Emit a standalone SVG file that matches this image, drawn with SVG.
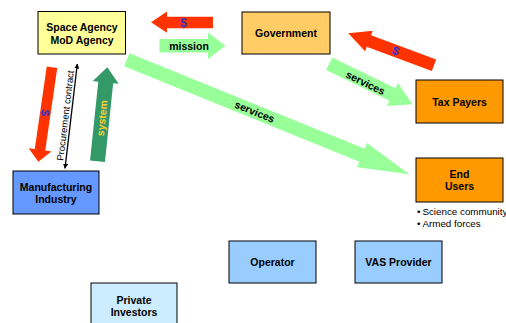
<svg xmlns="http://www.w3.org/2000/svg" width="506" height="323" viewBox="0 0 506 323">
<defs>
<style>
.box{stroke:#000;stroke-width:1}
.lbl{font-family:"Liberation Sans",Arial,sans-serif;font-weight:bold;font-size:10.5px;fill:#000;text-anchor:middle}
.red{fill:#FF3300}
.lg{fill:#99FF99}
.dg{fill:#339966}
.dollar{font-family:"Liberation Sans",Arial,sans-serif;font-weight:bold;font-size:12px;fill:#3333CC;text-anchor:middle}
.small{font-family:"Liberation Sans",Arial,sans-serif;font-size:9.5px;fill:#000}
.bul{font-family:"Liberation Sans",Arial,sans-serif;font-size:9.8px;fill:#000}
</style>
<marker id="ah" viewBox="0 0 10 10" refX="9" refY="5" markerWidth="5" markerHeight="5" orient="auto-start-reverse" markerUnits="userSpaceOnUse">
<path d="M0,0 L10,5 L0,10 z" fill="#000"/>
</marker>
</defs>
<rect width="506" height="323" fill="#fff"/>

<g id="connectors">
  <g id="arrow-gov-to-agency-money">
    <polygon class="red" points="213,16.7 167,16.7 167,11.5 151,22.2 167,32.8 167,28.3 213,28.3"/>
    <text class="dollar" x="183.5" y="27">$</text>
  </g>
  <g id="arrow-mission">
    <polygon class="lg" points="159.5,39 208,39 208,32.5 225.5,45.8 208,59 208,52.5 159.5,52.5"/>
    <text class="lbl" x="189" y="49.5">mission</text>
  </g>
  <g id="arrow-tax-to-gov-money" transform="translate(434,65.3) rotate(200.5)">
    <polygon class="red" points="0,-6.2 69.5,-6.2 69.5,-11 91.5,0 69.5,11 69.5,6.2 0,6.2"/>
  </g>
  <text class="dollar" transform="translate(396,50.7) rotate(20.5)" x="0" y="4.3">$</text>
  <g id="arrow-gov-services" transform="translate(329.2,63.8) rotate(25.9)">
    <polygon class="lg" points="0,-7 70.4,-7 70.4,-12.7 92.6,0 70.4,12.7 70.4,7 0,7"/>
    <text class="lbl" x="41" y="5">services</text>
  </g>
  <g id="arrow-agency-services" transform="translate(126.8,59.7) rotate(22.08)">
    <polygon class="lg" points="0,-7 253.9,-7 253.9,-13 304.9,0 253.9,13 253.9,7 0,7"/>
    <text class="lbl" x="138" y="3.8">services</text>
  </g>
  <g id="arrow-agency-to-industry-money" transform="translate(52,67.3) rotate(98.26)">
    <polygon class="red" points="0,-5.3 83.4,-5.3 83.4,-11.5 95.4,0 83.4,11.5 83.4,5.3 0,5.3"/>
    <text class="dollar" x="46" y="4.3">$</text>
  </g>
  <g id="arrow-procurement" transform="translate(65,168.3) rotate(-83.27)">
    <line x1="0" y1="0" x2="105" y2="0" stroke="#000" stroke-width="1.3" marker-start="url(#ah)" marker-end="url(#ah)"/>
    <text class="small" x="52.5" y="-2.5" text-anchor="middle">Procurement contract</text>
  </g>
  <g id="arrow-system" transform="translate(97.5,161.2) rotate(-84.04)">
    <polygon class="dg" points="0,-7.5 79.2,-7.5 79.2,-13 94.4,0 79.2,13 79.2,7.5 0,7.5"/>
    <text class="lbl" x="43.4" y="3.7" style="fill:#FFCC33">system</text>
  </g>
</g>

<g id="space-agency">
  <rect class="box" x="38" y="11.5" width="87.5" height="42.5" fill="#FFFF99"/>
  <text class="lbl" x="82" y="31">Space Agency</text>
  <text class="lbl" x="82" y="44">MoD Agency</text>
</g>
<g id="government">
  <rect class="box" x="242" y="12" width="88" height="42" fill="#FFCC66"/>
  <text class="lbl" x="286" y="37">Government</text>
</g>
<g id="tax-payers">
  <rect class="box" x="416" y="80" width="87" height="43" fill="#FF9900"/>
  <text class="lbl" x="459.5" y="106">Tax Payers</text>
</g>
<g id="end-users">
  <rect class="box" x="416" y="158" width="87" height="44" fill="#FF9900"/>
  <text class="lbl" x="459.5" y="177.5">End</text>
  <text class="lbl" x="459.5" y="189.5">Users</text>
  <text class="bul" x="417" y="215.3">•<tspan dx="2">Science community</tspan></text>
  <text class="bul" x="417" y="227">•<tspan dx="2">Armed forces</tspan></text>
</g>
<g id="manufacturing-industry">
  <rect class="box" x="13" y="171" width="86" height="43" fill="#6699FF"/>
  <text class="lbl" x="56" y="191">Manufacturing</text>
  <text class="lbl" x="56" y="202.5">Industry</text>
</g>
<g id="operator">
  <rect class="box" x="229" y="241" width="87" height="42" fill="#99CCFF"/>
  <text class="lbl" x="272.5" y="266">Operator</text>
</g>
<g id="vas-provider">
  <rect class="box" x="355" y="241" width="87" height="42" fill="#99CCFF"/>
  <text class="lbl" x="398.5" y="266">VAS Provider</text>
</g>
<g id="private-investors">
  <rect class="box" x="91" y="283" width="86" height="45" fill="#CCECFF"/>
  <text class="lbl" x="134" y="303.5">Private</text>
  <text class="lbl" x="134" y="316">Investors</text>
</g>
</svg>
